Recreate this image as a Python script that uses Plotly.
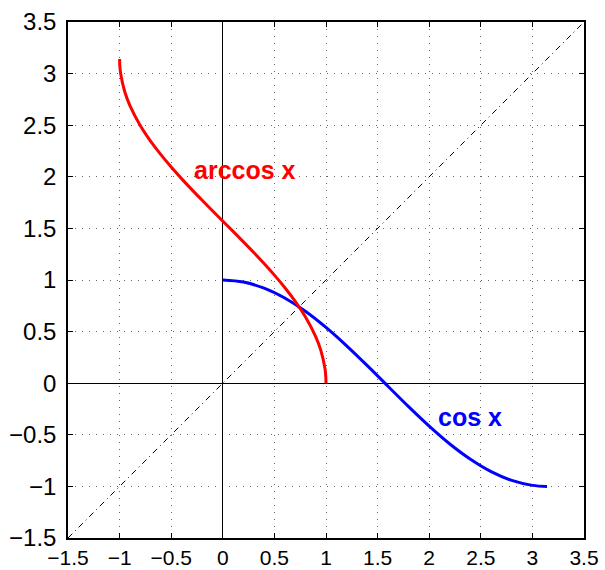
import plotly.graph_objects as go

# cos x sampled on [0, pi]
cos_x = [0.0, 0.2, 0.4, 0.6, 0.8, 1.0, 1.2, 1.4, 1.6, 1.8, 2.0, 2.2, 2.4, 2.6, 2.8, 3.0, 3.1416]
cos_y = [1.0, 0.980, 0.921, 0.825, 0.697, 0.540, 0.362, 0.170, -0.029, -0.227,
         -0.416, -0.589, -0.737, -0.857, -0.942, -0.990, -1.0]

# arccos x sampled on [-1, 1]
acos_x = [-1.0, -0.998, -0.99, -0.95, -0.9, -0.8, -0.7, -0.6, -0.5, -0.4, -0.3, -0.2, -0.1,
          0.0, 0.1, 0.2, 0.3, 0.4, 0.5, 0.6, 0.7, 0.8, 0.9, 0.95, 0.99, 0.998, 1.0]
acos_y = [3.1416, 3.0783, 3.0006, 2.8240, 2.6906, 2.4981, 2.3462, 2.2143, 2.0944, 1.9823,
          1.8755, 1.7722, 1.6710, 1.5708, 1.4706, 1.3694, 1.2661, 1.1593, 1.0472, 0.9273,
          0.7954, 0.6435, 0.4510, 0.3176, 0.1415, 0.0633, 0.0]

# identity line y = x
diag_x = [-1.5, 3.5]
diag_y = [-1.5, 3.5]

tick_vals = [-1.5, -1, -0.5, 0, 0.5, 1, 1.5, 2, 2.5, 3, 3.5]
tick_text = ["\u22121.5", "\u22121", "\u22120.5", "0", "0.5", "1", "1.5", "2", "2.5", "3", "3.5"]

fig = go.Figure()
fig.add_trace(go.Scatter(x=diag_x, y=diag_y, mode="lines",
                         line=dict(color="black", width=1, dash="6px,4px,1px,4px"),
                         hoverinfo="skip"))
fig.add_trace(go.Scatter(x=cos_x, y=cos_y, mode="lines", line_shape="spline",
                         line=dict(color="#0000ff", width=3)))
fig.add_trace(go.Scatter(x=acos_x, y=acos_y, mode="lines", line_shape="spline",
                         line=dict(color="#ff0000", width=3)))

fig.add_annotation(x=-0.303, y=2.07, text="<b>arccos x</b>", showarrow=False,
                   xanchor="left", yanchor="middle",
                   font=dict(family="Liberation Sans, Arial", size=25, color="#ff0000"))
fig.add_annotation(x=2.065, y=-0.33, text="<b>cos x</b>", showarrow=False,
                   xanchor="left", yanchor="middle",
                   font=dict(family="Liberation Sans, Arial", size=25, color="#0000ff"))

axis_common = dict(
    range=[-1.5, 3.5], tickmode="array", tickvals=tick_vals, ticktext=tick_text,
    showgrid=True, gridcolor="#666666", gridwidth=1, griddash="1px,6px",
    zeroline=True, zerolinecolor="black", zerolinewidth=1,
    showline=True, linecolor="black", linewidth=1.5, mirror="ticks",
    ticks="inside", ticklen=5, tickcolor="black", tickwidth=1,
    fixedrange=True, automargin=False,
)

fig.update_layout(
    width=605, height=570,
    margin=dict(l=68, r=21, t=22, b=32),
    paper_bgcolor="white", plot_bgcolor="white",
    showlegend=False,
    xaxis=dict(**axis_common, ticklabelstandoff=0,
               tickfont=dict(family="Liberation Sans, Arial", size=21, color="black")),
    yaxis=dict(**axis_common, ticklabelstandoff=5,
               tickfont=dict(family="Liberation Sans, Arial", size=24, color="black")),
)

fig.write_html("out.html")
